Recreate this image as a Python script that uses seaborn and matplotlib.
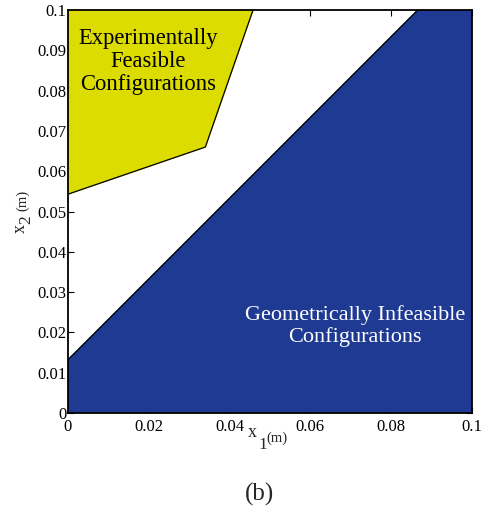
import matplotlib
matplotlib.use("Agg")
import matplotlib.pyplot as plt
import seaborn as sns
import pandas as pd

# Region boundaries (x1, x2 in metres)
feasible_x = [0.0, 0.034, 0.0458, 0.0]
feasible_y = [0.0543, 0.066, 0.1, 0.1]
infeasible_x = [0.0, 0.0866, 0.1, 0.1, 0.0]
infeasible_y = [0.0132, 0.1, 0.1, 0.0, 0.0]
xticks = [0, 0.02, 0.04, 0.06, 0.08, 0.1]
yticks = [0, 0.01, 0.02, 0.03, 0.04, 0.05, 0.06, 0.07, 0.08, 0.09, 0.1]
xtick_labels = ["0", "0.02", "0.04", "0.06", "0.08", "0.1"]
ytick_labels = ["0", "0.01", "0.02", "0.03", "0.04", "0.05", "0.06", "0.07", "0.08", "0.09", "0.1"]

sns.set_style("ticks")
plt.rcParams['font.family'] = ['Liberation Serif', 'DejaVu Serif']

W, H = 483, 512
fig = plt.figure(figsize=(W/100, H/100), dpi=100)
ax = fig.add_axes([68/W, 1-413/H, (472-68)/W, (413-10)/H])

YELLOW = "#dcdc00"
BLUE = "#1f3a93"

ax.fill(feasible_x, feasible_y, color=YELLOW, zorder=1)
ax.fill(infeasible_x, infeasible_y, color=BLUE, zorder=1)

df_f = pd.DataFrame({"x": feasible_x[:3], "y": feasible_y[:3]})
df_i = pd.DataFrame({"x": infeasible_x[:2], "y": infeasible_y[:2]})
sns.lineplot(data=df_f, x="x", y="y", sort=False, color="black", lw=0.9, ax=ax, zorder=2)
sns.lineplot(data=df_i, x="x", y="y", sort=False, color="black", lw=0.9, ax=ax, zorder=2)

ax.set_xlim(0, 0.1)
ax.set_ylim(0, 0.1)
ax.set_xticks(xticks)
ax.set_xticklabels(xtick_labels)
ax.set_yticks(yticks)
ax.set_yticklabels(ytick_labels)
ax.tick_params(direction="in", top=True, right=True, length=4, width=0.8,
               labelsize=12, colors="black")
ax.tick_params(axis="x", pad=4)
ax.tick_params(axis="y", pad=1)
for s in ax.spines.values():
    s.set_linewidth(1.3)
    s.set_color("black")
ax.set_xlabel("")
ax.set_ylabel("")

def px(x, y):
    return x / W, 1 - y / H

# x-axis label: x, subscript 1, then (m)
fig.text(*px(257, 437), "x", ha="right", va="baseline", fontsize=13)
fig.text(*px(258, 449), "1", ha="left", va="baseline", fontsize=12.5)
fig.text(*px(266, 442), "(m)", ha="left", va="baseline", fontsize=10.5)
# y-axis label (rotated)
kw = dict(rotation=90, rotation_mode="anchor", ha="left", va="baseline")
fig.text(*px(25, 233), "x", fontsize=13, **kw)
fig.text(*px(30, 224), "2", fontsize=12.5, **kw)
fig.text(*px(26, 211), "(m)", fontsize=10.5, **kw)

ax.text(0.0198, 0.0955, "Experimentally\nFeasible\nConfigurations", ha="center", va="top",
        fontsize=16.3, color="black", linespacing=1.12)
ax.text(0.071, 0.0215, "Geometrically Infeasible\nConfigurations", ha="center", va="center",
        fontsize=16, color="white", linespacing=1.15)

fig.text(*px(259, 494), "(b)", ha="center", va="center", fontsize=18)

fig.savefig("out.png", dpi=100)
